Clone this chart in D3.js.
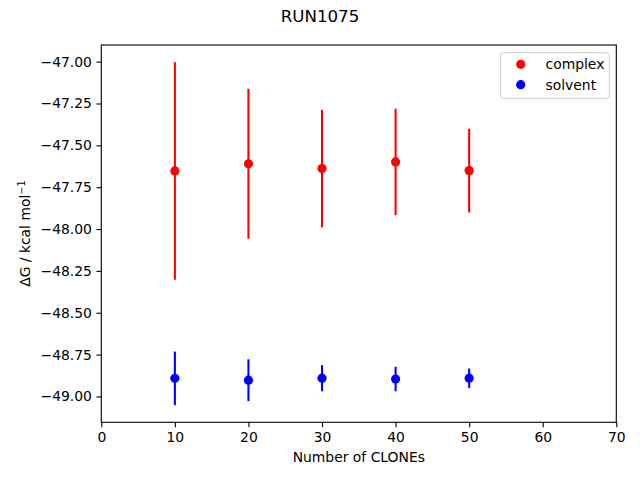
<!DOCTYPE html>
<html>
<head>
<meta charset="utf-8">
<script src="https://cdn.jsdelivr.net/npm/d3@7"></script>
<style>
  html, body { margin: 0; padding: 0; background: #fff; }
  svg { display: block; font-family: "DejaVu Sans", sans-serif; }
</style>
</head>
<body>
<script>
// ---- data ----
const clones = [10, 20, 30, 40, 50];
const complexMean = [-47.653, -47.610, -47.639, -47.599, -47.651];
const complexErr  = [0.650, 0.448, 0.351, 0.318, 0.250];
const solventMean = [-48.892, -48.903, -48.891, -48.896, -48.891];
const solventErr  = [0.160, 0.125, 0.078, 0.073, 0.058];
const xTicks = [0, 10, 20, 30, 40, 50, 60, 70];
const yTicks = [-47.00, -47.25, -47.50, -47.75, -48.00, -48.25, -48.50, -48.75, -49.00];
const seriesNames = ["complex", "solvent"];
const seriesColors = ["#ff0000", "#0000ff"];
const titleText = "RUN1075";

const W = 640, H = 480;
const m = { left: 101.3, right: 616.3, top: 45, bottom: 422.3 };

const svg = d3.select("body").append("svg").attr("width", W).attr("height", H);

// y domain with matplotlib-like 5% margins
const lows = complexMean.map((v,i)=>v-complexErr[i]).concat(solventMean.map((v,i)=>v-solventErr[i]));
const highs = complexMean.map((v,i)=>v+complexErr[i]).concat(solventMean.map((v,i)=>v+solventErr[i]));
const ymin = d3.min(lows), ymax = d3.max(highs), R = ymax - ymin;

const x = d3.scaleLinear().domain([0, 70]).range([m.left, m.right]);
const y = d3.scaleLinear().domain([ymin - 0.05*R, ymax + 0.05*R]).range([m.bottom, m.top]);

const minus = s => s.replace("-", "\u2212");

// axes
const xAxis = d3.axisBottom(x).tickValues(xTicks).tickSize(4.86).tickPadding(4.5)
  .tickFormat(d => minus(d3.format("d")(d)));
const yAxis = d3.axisLeft(y).tickValues(yTicks).tickSize(4.86).tickPadding(4.5)
  .tickFormat(d => minus(d3.format(".2f")(d)));

const gx = svg.append("g").attr("transform", `translate(0,${m.bottom})`).call(xAxis);
const gy = svg.append("g").attr("transform", `translate(${m.left},0)`).call(yAxis);
[gx, gy].forEach(g => {
  g.select(".domain").remove();
  g.selectAll("text").attr("font-size", "13.9px").attr("fill", "#000").attr("font-family", "DejaVu Sans, sans-serif");
  g.selectAll("line").attr("stroke", "#000").attr("stroke-width", 1.1);
});

// frame
svg.append("rect").attr("x", m.left).attr("y", m.top)
  .attr("width", m.right - m.left).attr("height", m.bottom - m.top)
  .attr("fill", "none").attr("stroke", "#000").attr("stroke-width", 1.1);

// series
const series = [
  { name: seriesNames[0], color: seriesColors[0], mean: complexMean, err: complexErr },
  { name: seriesNames[1], color: seriesColors[1], mean: solventMean, err: solventErr }
];
series.forEach(s => {
  const g = svg.append("g");
  g.selectAll("line.err").data(clones).join("line")
    .attr("x1", d => x(d)).attr("x2", d => x(d))
    .attr("y1", (d,i) => y(s.mean[i] - s.err[i]))
    .attr("y2", (d,i) => y(s.mean[i] + s.err[i]))
    .attr("stroke", s.color).attr("stroke-width", 2.08);
  g.selectAll("circle").data(clones).join("circle")
    .attr("cx", d => x(d)).attr("cy", (d,i) => y(s.mean[i]))
    .attr("r", 4.6).attr("fill", s.color);
});

// title
svg.append("text").attr("x", 320).attr("y", 22).attr("text-anchor", "middle")
  .attr("font-size", "16.67px").text(titleText);

// x label
svg.append("text").attr("x", (m.left + m.right)/2).attr("y", 462)
  .attr("text-anchor", "middle").attr("font-size", "13.9px").text("Number of CLONEs");

// y label
const yl = svg.append("text")
  .attr("transform", `translate(30,${(m.top + m.bottom)/2}) rotate(-90)`)
  .attr("text-anchor", "middle").attr("font-size", "13.9px");
yl.append("tspan").text("\u0394G / kcal mol");
yl.append("tspan").attr("font-size", "9.7px").attr("dy", "-5").text("\u22121");

// legend
const lg = svg.append("g");
lg.append("rect").attr("x", 500.7).attr("y", 52.7).attr("width", 108.6).attr("height", 45.6)
  .attr("rx", 2.5).attr("fill", "#fff").attr("fill-opacity", 0.8)
  .attr("stroke", "#cccccc").attr("stroke-width", 1);
series.forEach((s, i) => {
  const cy = 64.3 + i * 20.4;
  lg.append("circle").attr("cx", 520.7).attr("cy", cy).attr("r", 4.6).attr("fill", s.color);
  lg.append("text").attr("x", 545.5).attr("y", cy + 5).attr("font-size", "13.9px").text(s.name);
});
</script>
</body>
</html>
